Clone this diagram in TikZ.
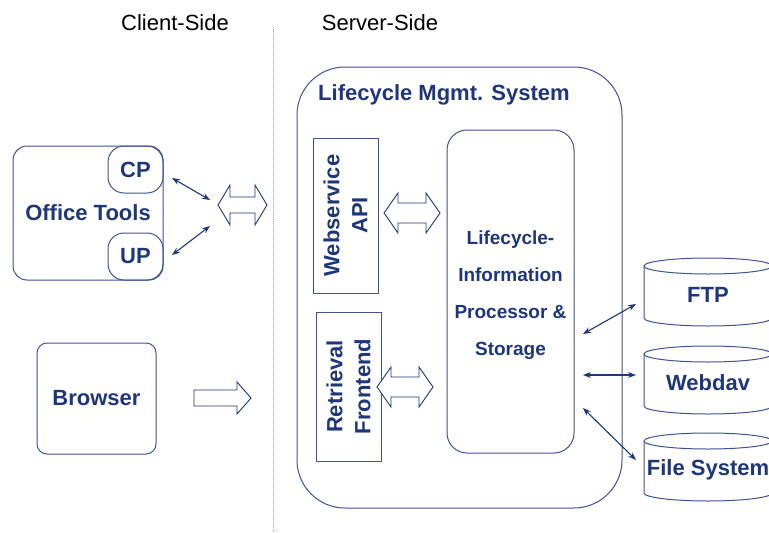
\documentclass[tikz,border=0pt]{standalone}
\usepackage{fontspec}
\setmainfont{Liberation Sans}
\usetikzlibrary{positioning, calc, arrows.meta}

\definecolor{navy}{RGB}{30,54,122}
\definecolor{framecol}{RGB}{62,82,150}
\definecolor{divider}{RGB}{150,160,192}

\begin{document}
\begin{tikzpicture}[
        x=1pt, y=-1pt,
        panel/.style={draw=framecol, line width=1pt, rounded corners=#1, align=center, text=navy, inner sep=0pt, font=\fontsize{22}{28}\selectfont\bfseries},
        apibox/.style={draw=framecol, line width=1pt, align=center, text=navy, inner sep=0pt, font=\fontsize{22}{28}\selectfont\bfseries},
        label_txt/.style={text=navy, inner sep=0pt, font=\fontsize{22}{28}\selectfont\bfseries},
        side_txt/.style={inner sep=0pt, font=\fontsize{22}{26}\selectfont},
        hollow/.style={draw=navy, line width=0.9pt, fill=white, line join=miter},
        link/.style={{Stealth[length=8pt,width=6pt]}-{Stealth[length=8pt,width=6pt]}, draw=navy, line width=1.1pt},
        store/.style={draw=framecol, line width=1pt, fill=white}
    ]
        \useasboundingbox (0,0) rectangle (769,533);
        \clip (0,0) rectangle (769,533);

        % --- HEADINGS ---
        \node[side_txt] (client) at (175,23) {Client-Side};
        \node[side_txt] (server) at (380,23) {Server-Side};
        \draw[divider, line width=1pt, densely dotted] (273,27) -- (273,533);

        % --- CLIENT SIDE ---
        \node[panel=14pt, minimum width=150pt, minimum height=134pt] (office) at (88,213) {Office Tools};
        \node[panel=16pt, minimum width=55pt, minimum height=47pt, anchor=north east] (cp) at (office.north east) {CP};
        \node[panel=16pt, minimum width=55pt, minimum height=47pt, anchor=south east] (up) at (office.south east) {UP};
        \node[panel=10pt, minimum width=119pt, minimum height=111pt] (browser) at (96.5,398.5) {Browser};

        % --- SERVER SIDE ---
        \node[panel=48pt, minimum width=325pt, minimum height=441pt] (lms) at (459.5,287.5) {};
        \node[label_txt, anchor=west] (lmstitle) at (318,95) {Lifecycle Mgmt. System};
        \node[apibox, minimum width=65pt, minimum height=155pt] (webapi) at (345.5,215.5) {};
        \node[label_txt, rotate=90, align=center] at (webapi.center) {Webservice\\API};
        \node[apibox, minimum width=65pt, minimum height=149pt] (retrieval) at (348.5,386.5) {};
        \node[label_txt, rotate=90, align=center] at (retrieval.center) {Retrieval\\Frontend};
        \node[panel=20pt, minimum width=127pt, minimum height=323pt] (proc) at (510.5,291.5) {};
        \node[label_txt, align=center, font=\fontsize{19}{37}\selectfont\bfseries] (proctxt) at (510.5,295.5) {Lifecycle-\\Information\\Processor \&\\Storage};

        % --- STORAGE ---
        \foreach \nm/\yc/\txt in {ftp/292/FTP, webdav/380/Webdav, filesys/467/File System} {
            \draw[store] (644,\yc-26) -- (644,\yc+26) arc[start angle=180, end angle=0, x radius=64, y radius=8] -- (772,\yc-26);
            \draw[store] (708,\yc-26) ellipse[x radius=64, y radius=8];
            \node[label_txt] (\nm) at (708,\yc+3) {\txt};
        }

        % --- HOLLOW ARROWS ---
        \draw[hollow] (218,205) -- (230,185) -- (230,197) -- (255,197) -- (255,185) -- (267,205) -- (255,225) -- (255,213) -- (230,213) -- (230,225) -- cycle;
        \draw[hollow] (194,390) -- (237,390) -- (237,382) -- (251,398) -- (237,414) -- (237,406) -- (194,406) -- cycle;
        \draw[hollow] (384,213) -- (398,193) -- (398,203) -- (426,203) -- (426,193) -- (440,213) -- (426,233) -- (426,223) -- (398,223) -- (398,233) -- cycle;
        \draw[hollow] (377,387) -- (391,367) -- (391,377) -- (419,377) -- (419,367) -- (433,387) -- (419,407) -- (419,397) -- (391,397) -- (391,407) -- cycle;

        % --- CONNECTIONS ---
        \coordinate (cpout) at (172,178);
        \coordinate (upout) at (172,255);
        \coordinate (gateA) at (210,200);
        \coordinate (gateB) at (210,226);
        \coordinate (procA) at (583,334);
        \coordinate (procB) at (583,375);
        \coordinate (procC) at (583,408);
        \coordinate (ftpin) at (636,304);
        \coordinate (davin) at (636,375);
        \coordinate (fsin) at (636,460);
        \draw[link] (cpout) -- (gateA);
        \draw[link] (upout) -- (gateB);
        \draw[link] (procA) -- (ftpin);
        \draw[link] (procB) -- (davin);
        \draw[link] (procC) -- (fsin);

    \end{tikzpicture}
\end{document}
